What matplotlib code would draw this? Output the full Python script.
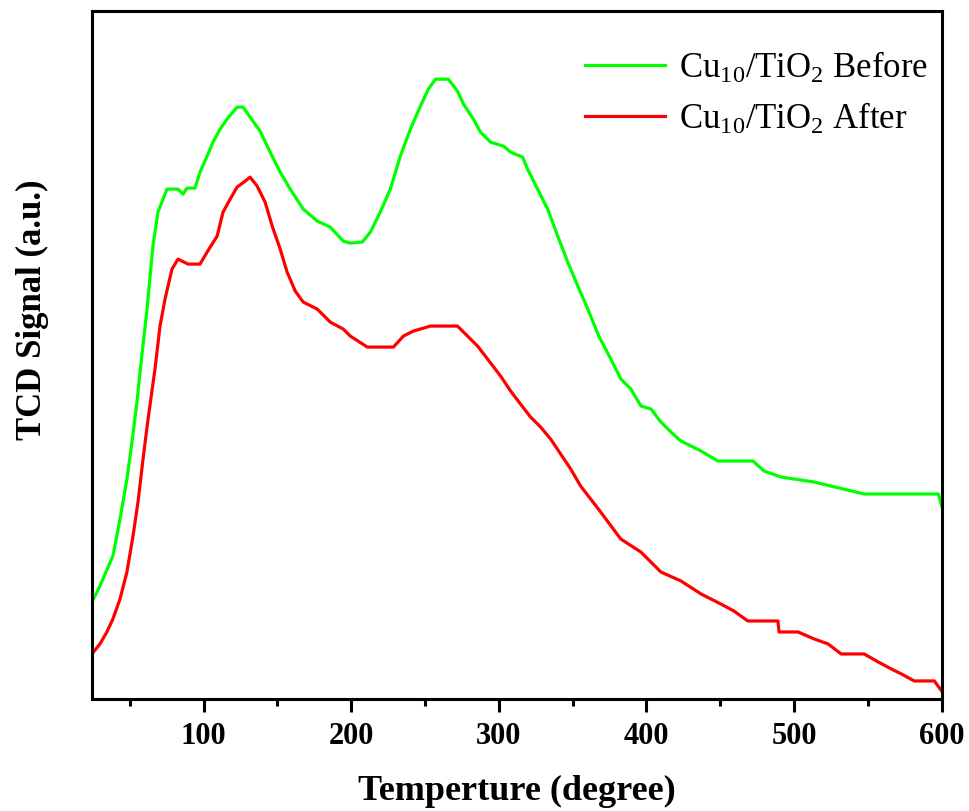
import matplotlib
matplotlib.use("Agg")
import matplotlib.pyplot as plt
from matplotlib.ticker import MultipleLocator

plt.rcParams["font.family"] = ["Liberation Serif", "DejaVu Serif"]
plt.rcParams["mathtext.fontset"] = "custom"
plt.rcParams["mathtext.rm"] = "Liberation Serif"
plt.rcParams["mathtext.it"] = "Liberation Serif:italic"
plt.rcParams["mathtext.bf"] = "Liberation Serif:bold"

# TPR profiles (temperature, TCD signal in arbitrary units)
temp_before = [24.4, 29.8, 38.6, 43.4, 48.1, 51.5, 54.9, 56.9, 61.7, 65.7, 69.1, 75.2,
               82.7, 86.1, 88.8, 94.2, 97.6, 102.4, 106.4, 111.2, 115.9, 122.7, 126.8,
               131.5, 138.3, 145.1, 151.9, 158.7, 167.5, 177.0, 185.8, 194.6, 199.4,
               207.5, 213.0, 219.7, 226.5, 233.3, 240.1, 246.9, 252.3, 257.1, 265.9,
               272.0, 276.1, 282.8, 287.6, 294.4, 303.2, 308.0, 316.1, 319.5, 326.3,
               333.1, 339.9, 346.7, 353.5, 360.3, 367.7, 375.9, 382.7, 389.5, 396.3,
               403.1, 409.8, 416.6, 423.4, 437.0, 448.4, 472.2, 479.6, 491.2, 513.6,
               547.5, 597.8, 600.0]
signal_before = [0.97, 1.13, 1.43, 1.80, 2.20, 2.57, 2.97, 3.26, 3.90, 4.53, 4.87, 5.10,
                 5.10, 5.05, 5.11, 5.11, 5.27, 5.43, 5.57, 5.70, 5.80, 5.92, 5.92,
                 5.82, 5.68, 5.47, 5.27, 5.10, 4.90, 4.78, 4.72, 4.58, 4.56,
                 4.57, 4.67, 4.87, 5.10, 5.43, 5.70, 5.93, 6.10, 6.20, 6.20,
                 6.08, 5.95, 5.80, 5.67, 5.57, 5.53, 5.47, 5.42, 5.30, 5.10,
                 4.90, 4.63, 4.37, 4.13, 3.90, 3.63, 3.40, 3.20, 3.10, 2.93,
                 2.90, 2.77, 2.67, 2.58, 2.48, 2.38, 2.38, 2.28, 2.22, 2.17,
                 2.05, 2.05, 1.93]

temp_after = [24.4, 29.8, 34.5, 38.6, 43.4, 48.1, 52.2, 55.6, 59.0, 62.4, 67.1, 70.5,
              73.9, 78.6, 82.7, 89.5, 97.6, 102.4, 109.2, 113.2, 118.0, 122.7, 128.2,
              131.5, 136.3, 141.7, 146.5, 151.9, 156.6, 162.1, 167.5, 177.0, 185.8,
              194.6, 199.4, 210.9, 228.6, 235.4, 242.1, 253.7, 272.0, 278.8, 285.6,
              292.4, 301.2, 308.0, 314.7, 321.5, 328.3, 335.1, 341.9, 348.7, 355.4,
              369.0, 382.6, 396.2, 409.8, 423.4, 437.0, 450.4, 459.2, 468.7, 489.1,
              489.8, 502.7, 513.6, 523.1, 531.9, 547.5, 557.0, 565.9, 572.7, 581.4,
              595.0, 600.0]
signal_after = [0.45, 0.55, 0.67, 0.80, 1.00, 1.27, 1.63, 1.97, 2.40, 2.80, 3.30, 3.73,
                4.00, 4.30, 4.40, 4.35, 4.35, 4.47, 4.63, 4.87, 5.00, 5.12, 5.18,
                5.22, 5.13, 4.97, 4.73, 4.50, 4.27, 4.08, 3.97, 3.90, 3.77,
                3.70, 3.63, 3.52, 3.52, 3.63, 3.68, 3.73, 3.73, 3.63, 3.53,
                3.40, 3.23, 3.08, 2.95, 2.82, 2.72, 2.60, 2.45, 2.30, 2.13,
                1.87, 1.60, 1.47, 1.27, 1.18, 1.05, 0.95, 0.88, 0.78, 0.78,
                0.67, 0.67, 0.60, 0.55, 0.45, 0.45, 0.37, 0.30, 0.25, 0.18,
                0.18, 0.08]

labels = [r"Cu$_{10}$/TiO$_2$ Before", r"Cu$_{10}$/TiO$_2$ After"]
colors = ["#00ff00", "#ff0000"]

fig = plt.figure(figsize=(9.7, 8.12), dpi=100)
ax = fig.add_axes([0.0948, 0.138, 0.876, 0.847])

ax.plot(temp_before, signal_before, color=colors[0], lw=2.3, label=labels[0])
ax.plot(temp_after, signal_after, color=colors[1], lw=2.3, label=labels[1])

ax.set_xlim(24.4, 600)
ax.set_ylim(0, 6.88)
ax.xaxis.set_major_locator(MultipleLocator(100))
ax.xaxis.set_minor_locator(MultipleLocator(50))
ax.set_yticks([])

for s in ax.spines.values():
    s.set_linewidth(2.2)
ax.tick_params(axis="x", which="major", direction="out", length=9, width=2.2,
               labelsize=22, pad=7)
ax.tick_params(axis="x", which="minor", direction="out", length=5, width=2.2)
for t in ax.get_xticklabels():
    t.set_fontweight("bold")

ax.set_xlabel("Temperture (degree)", fontsize=26, fontweight="bold", labelpad=17)
ax.set_ylabel("TCD Signal (a.u.)", fontsize=25, fontweight="bold")
ax.yaxis.set_label_coords(-0.050, 0.568)

leg = ax.legend(loc="upper right", bbox_to_anchor=(1.0, 0.964), frameon=False,
                fontsize=25, handlelength=2.3, handletextpad=0.4,
                labelspacing=0.45, borderaxespad=0.0)
for line in leg.get_lines():
    line.set_linewidth(2.3)

fig.savefig("out.png", dpi=100)
